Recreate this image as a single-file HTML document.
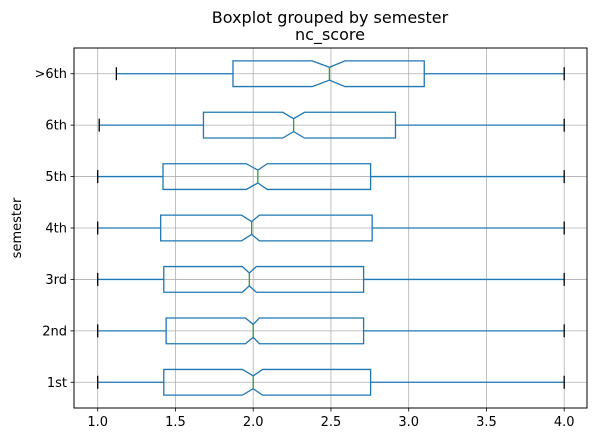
<!DOCTYPE html>
<html><head><meta charset="utf-8"><style>
body{margin:0;background:#fff;font-family:"Liberation Sans","DejaVu Sans",sans-serif}
svg text{font-family:"DejaVu Sans","Liberation Sans",sans-serif}
</style></head><body>
<svg id="c" width="596" height="442" viewBox="0 0 596 442">
<text x="330" y="23" font-size="16" text-anchor="middle">Boxplot grouped by semester</text>
<text x="330" y="40" font-size="16" text-anchor="middle">nc_score</text>
<text transform="translate(21,228) rotate(-90)" font-size="13" text-anchor="middle">semester</text>
<g id="grid"></g><g id="marks"></g><g id="ticks"></g>
<rect x="74" y="48" width="513" height="360" fill="none" stroke="#000" stroke-width="1"/>
</svg>
<script>
const categories=["1st","2nd","3rd","4th","5th","6th",">6th"];
const whisLo=[1.0,1.0,1.0,1.0,1.0,1.01,1.12];
const q1=[1.425,1.44,1.425,1.405,1.42,1.68,1.87];
const med=[2.0,2.0,1.975,1.99,2.03,2.26,2.49];
const notchLo=[1.93,1.95,1.93,1.925,1.955,2.19,2.38];
const notchHi=[2.06,2.04,2.02,2.04,2.09,2.33,2.59];
const q3=[2.755,2.71,2.71,2.765,2.755,2.915,3.10];
const whisHi=[4.0,4.0,4.0,4.0,4.0,4.0,4.0];
const xTicks=[1.0,1.5,2.0,2.5,3.0,3.5,4.0];
const xTickLabels=["1.0","1.5","2.0","2.5","3.0","3.5","4.0"];
const NS="http://www.w3.org/2000/svg";
const L=74,R=587,T=48,B=408;
const xs=v=>97.7+(v-1)*155.5;
const ys=i=>B-(i+0.5)*(B-T)/categories.length;
const bh=(B-T)/categories.length*0.25;
function mk(tag,attrs,parent){const e=document.createElementNS(NS,tag);for(const k in attrs)e.setAttribute(k,attrs[k]);document.getElementById(parent).appendChild(e);return e;}
xTicks.forEach((v,i)=>{
 const g=mk('line',{x1:xs(v),x2:xs(v),y1:T,y2:B,stroke:'#b0b0b0','stroke-width':0.8},'grid');
 
 
 const t=mk('line',{x1:xs(v),x2:xs(v),y1:B,y2:B+3.5,stroke:'#000','stroke-width':0.8},'ticks');
 
 
 const tx=mk('text',{x:xs(v),y:B+18,'font-size':13,'text-anchor':'middle'},'ticks');
 tx.textContent=xTickLabels[i];
 
 
});
categories.forEach((c,i)=>{
 const y=ys(i);
 const g=mk('line',{x1:L,x2:R,y1:y,y2:y,stroke:'#b0b0b0','stroke-width':0.8},'grid');
 
 
 const t=mk('line',{x1:L-3.5,x2:L,y1:y,y2:y,stroke:'#000','stroke-width':0.8},'ticks');
 
 
 const tx=mk('text',{x:L-7,y:y+4.5,'font-size':13,'text-anchor':'end'},'ticks');
 tx.textContent=c;
 
 
 const col='#1f77b4';
 const w1=mk('line',{x1:xs(whisLo[i]),x2:xs(q1[i]),y1:y,y2:y,stroke:col,'stroke-width':1.3},'marks');
 
 
 const w2=mk('line',{x1:xs(q3[i]),x2:xs(whisHi[i]),y1:y,y2:y,stroke:col,'stroke-width':1.3},'marks');
 
 
 const c1=mk('line',{x1:xs(whisLo[i]),x2:xs(whisLo[i]),y1:y-6.5,y2:y+6.5,stroke:'#000','stroke-width':1.3},'marks');
 
 
 const c2=mk('line',{x1:xs(whisHi[i]),x2:xs(whisHi[i]),y1:y-6.5,y2:y+6.5,stroke:'#000','stroke-width':1.3},'marks');
 
 
 const h=bh,hw=bh/2;
 const pts=[[q1[i],y-h],[notchLo[i],y-h],[med[i],y-hw],[notchHi[i],y-h],[q3[i],y-h],[q3[i],y+h],[notchHi[i],y+h],[med[i],y+hw],[notchLo[i],y+h],[q1[i],y+h]].map(p=>xs(p[0])+','+p[1]).join(' ');
 const bx=mk('polygon',{points:pts,fill:'none',stroke:col,'stroke-width':1.3},'marks');
 
 
 const m=mk('line',{x1:xs(med[i]),x2:xs(med[i]),y1:y-hw,y2:y+hw,stroke:'#2ca02c','stroke-width':1.3},'marks');
 
 
});
</script>
</body></html>
